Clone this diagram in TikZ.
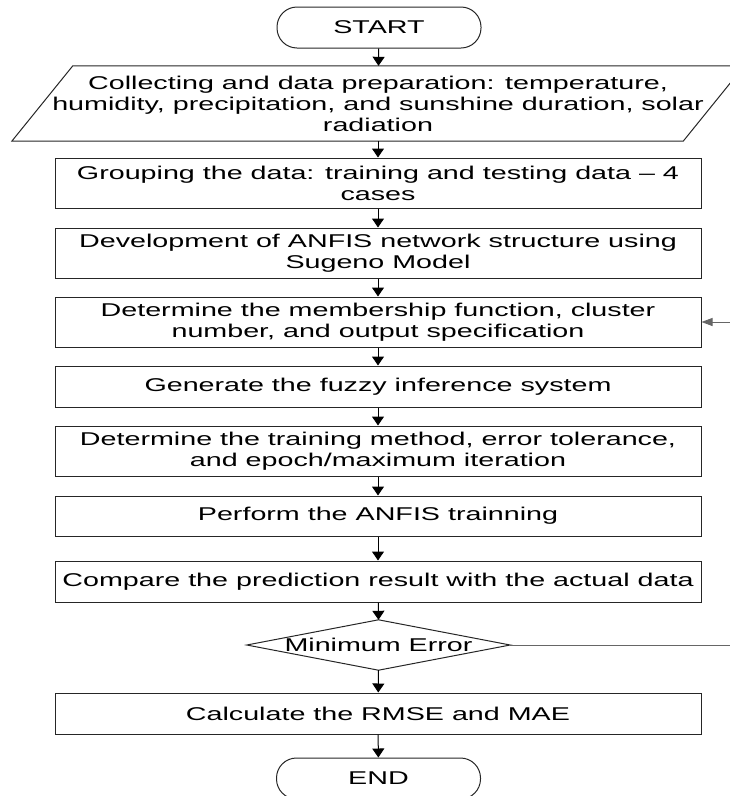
\documentclass[tikz,border=0pt]{standalone}
\usepackage{fontspec}
\setmainfont{Liberation Sans}[FakeStretch=1.55]
\usetikzlibrary{arrows.meta}
\begin{document}
\begin{tikzpicture}[x=1pt,y=-1pt,
  font=\fontsize{18.5}{21}\selectfont,
  box/.style={draw=black!85, line width=1pt, rectangle, minimum width=646pt, inner sep=0pt, align=center},
  term/.style={draw=black!85, line width=1pt, rounded corners=20pt, minimum width=204pt, minimum height=41pt, inner sep=0pt},
  flow/.style={-{Triangle[length=9pt,width=12pt]}, line width=1pt},
  back/.style={-{Triangle[length=11pt,width=8pt]}, draw=black!60, line width=0.9pt}]
\useasboundingbox (0,0) rectangle (729,796);

\node[term] (start) at (379,27.5) {START};
\node[inner sep=0pt, minimum width=671pt, minimum height=75pt, align=center] (collect) at (378,103.5)
  {Collecting and data preparation: temperature,\\ humidity, precipitation, and sunshine duration, solar\\ radiation};
\draw[line width=1pt, draw=black!85] ([xshift=30.5pt]collect.north west) -- ([xshift=30.5pt]collect.north east)
  -- ([xshift=-30.5pt]collect.south east) -- ([xshift=-30.5pt]collect.south west) -- cycle;

\node[box, minimum height=50pt] (group) at (378,183) {Grouping the data: training and testing data – 4\\ cases};
\node[box, minimum height=50pt] (dev) at (378,253) {Development of ANFIS network structure using\\ Sugeno Model};
\node[box, minimum height=50pt] (member) at (378,322) {Determine the membership function, cluster\\ number, and output specification};
\node[box, minimum height=41pt] (gen) at (378,386.5) {Generate the fuzzy inference system};
\node[box, minimum height=50pt] (train) at (378,451) {Determine the training method, error tolerance,\\ and epoch/maximum iteration};
\node[box, minimum height=40pt] (perform) at (378,516) {Perform the ANFIS trainning};
\node[box, minimum height=41pt] (compare) at (378,581.5) {Compare the prediction result with the actual data};
\node[inner sep=0pt, minimum width=263pt, minimum height=50pt] (dec) at (378.5,645) {Minimum Error};
\draw[line width=1pt, draw=black!85] (dec.north) -- (dec.east) -- (dec.south) -- (dec.west) -- cycle;
\node[box, minimum height=41pt] (calc) at (378,713.5) {Calculate the RMSE and MAE};
\node[term] (end) at (378.5,778.5) {END};

\draw[flow] (start) -- (collect);
\draw[flow] (collect) -- (group);
\draw[flow] (group) -- (dev);
\draw[flow] (dev) -- (member);
\draw[flow] (member) -- (gen);
\draw[flow] (gen) -- (train);
\draw[flow] (train) -- (perform);
\draw[flow] (perform) -- (compare);
\draw[flow] (compare) -- (dec.north);
\draw[flow] (dec.south) -- (calc);
\draw[flow] (calc) -- (end);
\draw[back] (dec.east) -- ++(250,0) |- (member.east);
\end{tikzpicture}
\end{document}
